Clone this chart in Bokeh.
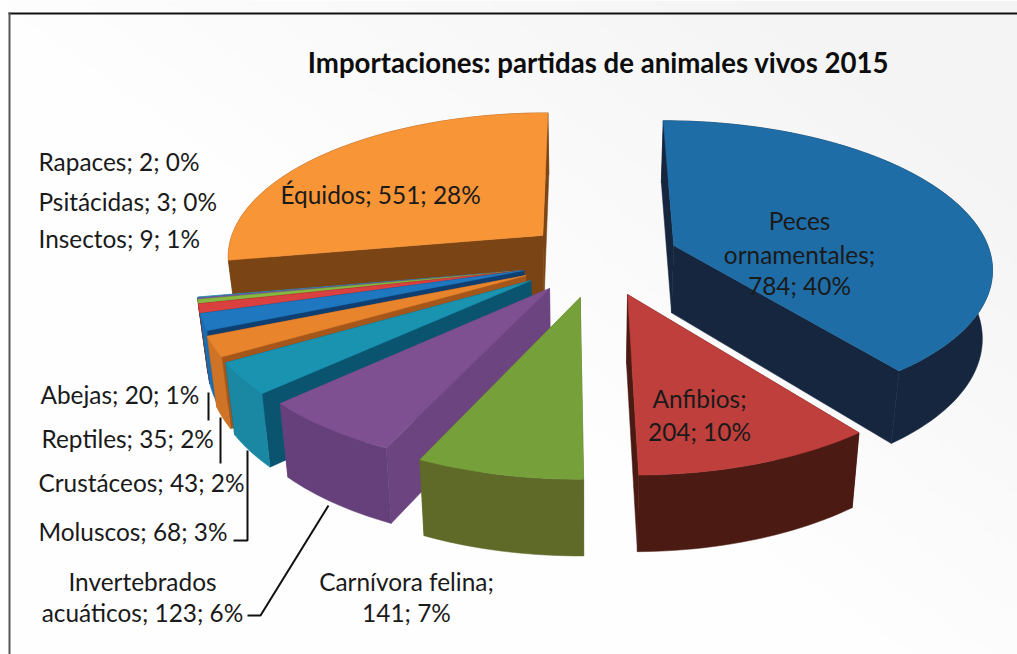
import math
import numpy as np
from bokeh.core.properties import value
from bokeh.embed import file_html
from bokeh.models import Range1d
from bokeh.plotting import figure
from bokeh.resources import INLINE

# ---- data -----------------------------------------------------------------
TITLE = "Importaciones: partidas de animales vivos 2015"
categories = ["Peces ornamentales", "Anfibios", "Carnívora felina", "Invertebrados acuáticos",
              "Moluscos", "Crustáceos", "Reptiles", "Abejas", "Insectos", "Psitácidas",
              "Rapaces", "Équidos"]
counts = [784, 204, 141, 123, 68, 43, 35, 20, 9, 3, 2, 551]
percents = [40, 10, 7, 6, 3, 2, 2, 1, 1, 0, 0, 28]

# ---- styling ---------------------------------------------------------------
top_colors = ["#1f6da6", "#bf3f3d", "#76a03a", "#7e5091", "#1a93b0", "#e8842c",
              "#1f78bf", "#d9403f", "#86b83f", "#7a5aa8", "#2aa5c0", "#f79537"]
arc_colors = ["#15263e", "#4a1a13", "#5f6a29", "#65407a", "#1a88a3", "#cf7426",
              "#1a6db0", "#a83030", "#5f8030", "#5a4080", "#1f80a0", "#7b4414"]
radial_colors = ["#15263e", "#4a1a13", "#5f6a29", "#6c4580", "#0a5470", "#a5571b",
                 "#0f3f70", "#701c1c", "#4f6a28", "#4a3570", "#155a78", "#7b4414"]

# scene: perspective pie, coordinates on the figure's own scale
VX, VY, RX, RY, K = 585.0, 285.0, 326.0, 152.6, 0.14
DEPTH, DEPTH_EXP, Z_SHRINK = 69.0, 0.65, 0.975
# how far each wedge is pulled from the pie's axis (in pie radii)
pull_x = [0.281, 0.128, -0.016, -0.110, -0.168, -0.185, -0.192, -0.192, -0.192, -0.192, -0.192, -0.137]
pull_y = [-0.272, 0.0585, 0.0778, 0.0196, -0.033, -0.066, -0.0995, -0.0995, -0.0995, -0.0995, -0.0995, -0.344]

# label placement: words per line, anchor, centre/left x, line y positions
label_place = {
    "Peces ornamentales": ([1, 1, 2], "center", 799, [220, 254, 285]),
    "Anfibios": ([1, 2], "center", 699, [398, 431]),
    "Carnívora felina": ([2, 2], "center", 406, [581, 612]),
    "Invertebrados acuáticos": ([1, 3], "center", 142, [581, 612]),
    "Moluscos": ([3], "left", 38, [531]),
    "Crustáceos": ([3], "left", 38, [482]),
    "Reptiles": ([3], "left", 41, [438]),
    "Abejas": ([3], "left", 40, [394]),
    "Insectos": ([3], "left", 38, [238]),
    "Psitácidas": ([3], "left", 38, [201]),
    "Rapaces": ([3], "left", 38, [161]),
    "Équidos": ([3], "left", 280, [194]),
}
leaders = [
    ([208, 208], [392, 420]),
    ([220, 220], [417, 463]),
    ([247, 247, 233], [450, 540, 540]),
    ([328, 260, 247], [505, 615, 615]),
]

W, H = 1017, 654
X0, Y0 = 0, 0
p = figure(width=W, height=H, x_range=Range1d(X0, X0 + W), y_range=Range1d(Y0 + H, Y0),
           output_backend="svg", toolbar_location=None, x_axis_type=None, y_axis_type=None,
           min_border=0, outline_line_color=None, background_fill_color="#ffffff",
           border_fill_color="#ffffff")
p.grid.visible = False

# faint backdrop: light grey top right fading to white
ny, nx = 128, 200
yy, xx = np.mgrid[0:ny, 0:nx]
shade = np.clip((xx / nx - yy / ny * 0.9) * 1.25, 0, 1)
lev = (254 - 10 * shade).astype(np.uint32)
img = (255 << 24) | (lev << 16) | (lev << 8) | lev
p.image_rgba(image=[img.astype(np.uint32)], x=X0, y=Y0, dw=W, dh=H)


def project(x, y):
    s = 1.0 / (1.0 - K * y)
    return VX + RX * x * s, VY + RY * y * s, s


def top_and_bottom(x, y):
    px, py, s = project(x, y)
    return px, py, VX + (px - VX) * Z_SHRINK, py + DEPTH * s ** DEPTH_EXP


total = sum(counts)
edges = [0.0]
for c in counts:
    edges.append(edges[-1] + 360.0 * c / total)


def wedge_faces(i):
    a0, a1 = edges[i], edges[i + 1]
    n = max(2, int((a1 - a0) / 1.5) + 2)
    ang = np.radians(np.linspace(a0, a1, n))
    ox = pull_x[i] + np.sin(ang)
    oy = pull_y[i] - np.cos(ang)
    tx, ty, bx, by = top_and_bottom(ox, oy)
    ax, ay, abx, aby = top_and_bottom(pull_x[i], pull_y[i])
    return tx, ty, bx, by, float(ax), float(ay), float(abx), float(aby)


order = [11, 10, 9, 8, 7, 6, 5, 4, 3, 2, 0, 1]
for i in order:
    tx, ty, bx, by, ax, ay, abx, aby = wedge_faces(i)
    # radial faces
    for j in (0, -1):
        p.patch([ax, tx[j], bx[j], abx], [ay, ty[j], by[j], aby],
                fill_color=radial_colors[i], line_color=radial_colors[i], line_width=0.5)
    # outer curved face
    p.patch(list(tx) + list(bx[::-1]), list(ty) + list(by[::-1]),
            fill_color=arc_colors[i], line_color=arc_colors[i], line_width=0.5)
    # top
    p.patch([ax] + list(tx), [ay] + list(ty),
            fill_color=top_colors[i], line_color=top_colors[i], line_width=0.5)

for xs, ys in leaders:
    p.line(xs, ys, line_color="#111111", line_width=2)

FONT = value("Lato")
p.text([598], [62], text=[TITLE], text_font=FONT, text_font_size="27.6px", text_font_style="bold",
       text_align="center", text_baseline="middle", text_color="#0d0d0d")

for c, v, pc in zip(categories, counts, percents):
    words = f"{c}; {v}; {pc}%".split(" ")
    parts, align, lx, ys = label_place[c]
    k = 0
    for m, ly in zip(parts, ys):
        line = " ".join(words[k:k + m])
        k += m
        p.text([lx], [ly], text=[line], text_font=FONT, text_font_size="24.4px", text_align=align,
               text_baseline="middle", text_color="#1a1a1a")

# frame: top and left rules only
p.line([8, X0 + W], [13, 13], line_color="#111111", line_width=2)
p.line([9, 9], [12, Y0 + H], line_color="#555555", line_width=2)

open("out.html", "w").write(file_html(p, INLINE))
